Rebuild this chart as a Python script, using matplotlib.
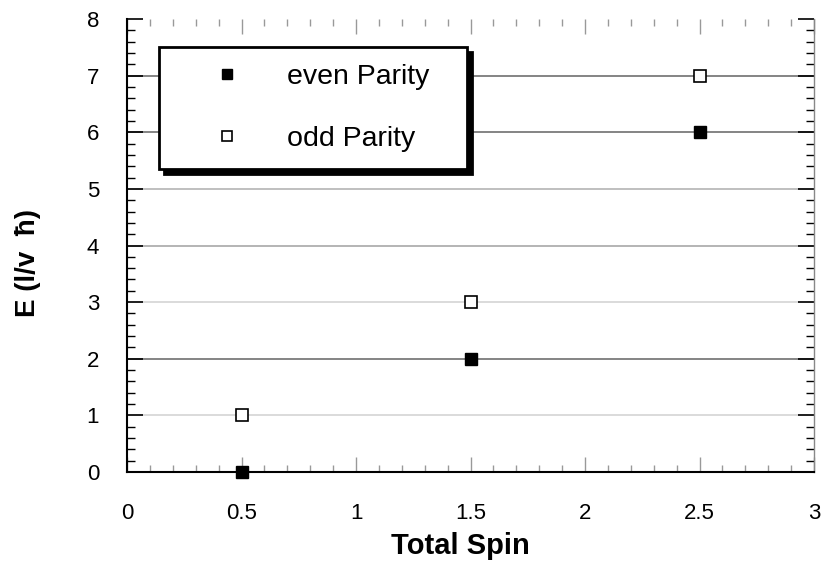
import matplotlib
matplotlib.use("Agg")
import matplotlib.pyplot as plt
from matplotlib.ticker import MultipleLocator

plt.rcParams['font.family'] = ['Liberation Sans', 'DejaVu Sans']

spin = [0.5, 1.5, 2.5]
even_E = [0, 2, 6]
odd_E = [1, 3, 7]
x_ticks = [0, 0.5, 1, 1.5, 2, 2.5, 3]
x_labels = ['0', '0.5', '1', '1.5', '2', '2.5', '3']
y_ticks = [0, 1, 2, 3, 4, 5, 6, 7, 8]
y_labels = ['0', '1', '2', '3', '4', '5', '6', '7', '8']
grid_levels = [1, 2, 3, 4, 5, 6, 7]
grid_colors = ['#d4d4d4', '#707070', '#d4d4d4', '#a8a8a8', '#b4b4b4', '#707070', '#707070']

W, H = 825, 564
fig = plt.figure(figsize=(W / 100, H / 100), dpi=100)
L, R, T, B = 127, 814, 19, 472
ax = fig.add_axes([L / W, (H - B) / H, (R - L) / W, (B - T) / H])

ax.set_xlim(0, 3)
ax.set_ylim(0, 8)

for lv, c in zip(grid_levels, grid_colors):
    ax.axhline(lv, color=c, lw=1.2, zorder=1)

ax.plot(spin, even_E, ls='none', marker='s', ms=8.5, mfc='black', mec='black',
        label='even Parity', clip_on=False, zorder=5)
ax.plot(spin, odd_E, ls='none', marker='s', ms=8.5, mfc='white', mec='black', mew=1.2,
        label='odd Parity', clip_on=False, zorder=5)

ax.spines['top'].set_visible(False)
ax.spines['right'].set_color('#888888')
ax.spines['left'].set_linewidth(1.5)
ax.spines['bottom'].set_linewidth(1.5)
ax.spines['right'].set_linewidth(1.0)

ax.set_xticks(x_ticks, x_labels)
ax.set_yticks(y_ticks, y_labels)
ax.xaxis.set_minor_locator(MultipleLocator(0.1))
ax.yaxis.set_minor_locator(MultipleLocator(0.2))

ax.tick_params(axis='x', which='both', direction='in', top=True, bottom=True,
               color='#999999', labelsize=16, pad=22)
ax.tick_params(axis='x', which='major', length=11, width=1)
ax.tick_params(axis='x', which='minor', length=5, width=1)
ax.tick_params(axis='y', which='both', direction='in', left=True, right=True,
               labelsize=16, pad=20)
ax.tick_params(axis='y', which='major', length=11.5, width=1.2)
ax.tick_params(axis='y', which='minor', length=6, width=1)
for tl in ax.yaxis.get_majorticklines()[1::2] + ax.yaxis.get_minorticklines()[1::2]:
    tl.set_color('#999999')

fig.text(460 / W, (H - 546) / H, 'Total Spin', ha='center', va='center',
         fontsize=21, fontweight='bold')
fig.text(28 / W, (H - 263) / H, 'E (l/v  ħ)', ha='center', va='center',
         rotation=90, fontsize=20, fontweight='bold')

x0 = (159 - L) / (R - L)
x1 = (467 - L) / (R - L)
y1 = (B - 47) / (B - T)
leg = ax.legend(loc='upper left', bbox_to_anchor=(x0, 0, x1 - x0, y1),
                mode='expand', fontsize=20.5, frameon=True, fancybox=False,
                borderpad=0.6, labelspacing=1.25, handlelength=3.6,
                handletextpad=0.3, borderaxespad=0, markerscale=0.9,
                shadow={'ox': 3.6, 'oy': -3.6, 'color': 'black', 'alpha': 1})
leg.get_frame().set_edgecolor('black')
leg.get_frame().set_linewidth(2)
leg.set_zorder(10)

fig.savefig('out.png', dpi=100)
